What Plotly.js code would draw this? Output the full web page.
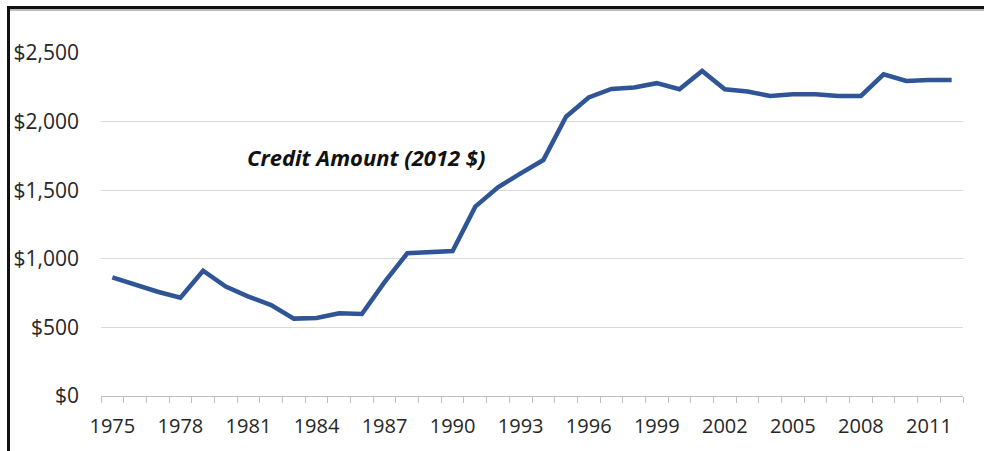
<!DOCTYPE html>
<html>
<head>
<meta charset="utf-8">
<script src="https://cdn.plot.ly/plotly-3.0.1.min.js"></script>
<style>
html,body{margin:0;padding:0;background:#fff;}
#wrap{position:relative;width:984px;height:451px;overflow:hidden;}
#chart{position:absolute;left:0;top:0;width:984px;height:451px;}
#bl{position:absolute;left:7px;top:7px;width:3px;height:444px;background:#111;}
#bt{position:absolute;left:7px;top:6px;width:977px;height:3px;background:#111;}
#bt2{position:absolute;left:10px;top:9px;width:974px;height:2px;background:#bdbdbd;}
</style>
</head>
<body>
<div id="wrap">
<div id="chart"></div>
<div id="bt2"></div>
<div id="bl"></div>
<div id="bt"></div>
</div>
<script>
var years = [1975,1976,1977,1978,1979,1980,1981,1982,1983,1984,1985,1986,1987,1988,1989,1990,1991,1992,1993,1994,1995,1996,1997,1998,1999,2000,2001,2002,2003,2004,2005,2006,2007,2008,2009,2010,2011,2012];
var creditAmount = [865,809,760,717,913,797,724,663,564,569,603,598,830,1040,1052,1057,1380,1521,1623,1720,2036,2176,2238,2248,2280,2236,2369,2236,2219,2187,2199,2199,2187,2187,2345,2296,2304,2304];
var tickYears = [1975,1978,1981,1984,1987,1990,1993,1996,1999,2002,2005,2008,2011];
var yTicks = [0,500,1000,1500,2000,2500];
var yTickText = ['$0','$500','$1,000','$1,500','$2,000','$2,500'];
var seriesLabel = 'Credit Amount (2012 $)';

var tickFam = '"Open Sans", "Noto Sans", sans-serif';
var annFam = '"Open Sans", "Noto Sans", sans-serif';

var trace = {
  x: years, y: creditAmount, type: 'scatter', mode: 'lines',
  line: {color: '#2f5597', width: 4.5, shape: 'linear'},
  hoverinfo: 'x+y'
};

var layout = {
  width: 984, height: 451,
  margin: {l: 101, r: 21, t: 53, b: 55},
  paper_bgcolor: '#ffffff', plot_bgcolor: '#ffffff',
  showlegend: false,
  font: {family: tickFam, size: 20, color: '#262626'},
  xaxis: {
    range: [1974.5, 2012.5],
    tickmode: 'array', tickvals: tickYears, ticktext: tickYears.map(String),
    ticks: '', showgrid: false, zeroline: false,
    showline: true, linecolor: '#bfbfbf', linewidth: 1,
    ticklabelstandoff: 12,
    tickfont: {family: tickFam, size: 20, color: '#262626'},
    minor: {tick0: 1974.5, dtick: 1, ticks: 'outside', ticklen: 6, tickcolor: '#bfbfbf', tickwidth: 1, showgrid: false}
  },
  yaxis: {
    range: [0, 2500],
    tickmode: 'array', tickvals: yTicks, ticktext: yTickText,
    ticks: '', showgrid: true, gridcolor: '#d9d9d9', gridwidth: 1,
    zeroline: false, showline: false,
    ticklabelstandoff: 21,
    tickfont: {family: tickFam, size: 21, color: '#262626'}
  },
  annotations: [{
    x: 1986.2, y: 1740, xref: 'x', yref: 'y',
    text: '<b><i>' + seriesLabel + '</i></b>',
    showarrow: false,
    font: {family: annFam, size: 22, color: '#111111'}
  }]
};

Plotly.newPlot('chart', [trace], layout, {displayModeBar: false, staticPlot: true});
</script>
</body>
</html>
